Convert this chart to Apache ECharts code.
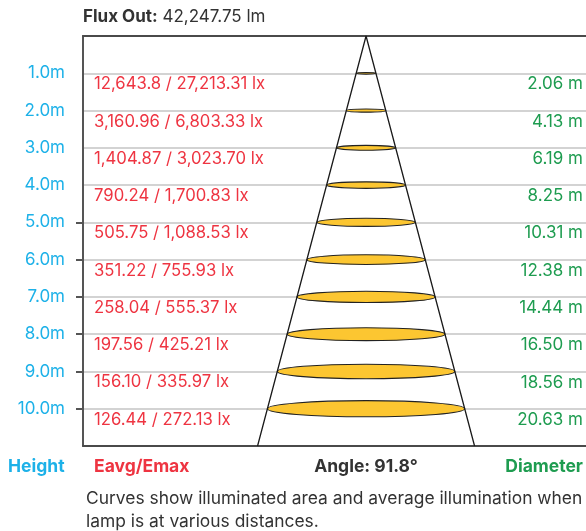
<!DOCTYPE html>
<html>
<head>
<meta charset="utf-8">
<script src="https://cdn.jsdelivr.net/npm/echarts@6/dist/echarts.min.js"></script>
<style>
  html, body { margin: 0; padding: 0; background: #fff; }
  #chart { width: 586px; height: 531px; }
</style>
</head>
<body>
<div id="chart"></div>
<script>
// mounting heights (m)
const heights = [1, 2, 3, 4, 5, 6, 7, 8, 9, 10];
// average / max illuminance (lx)
const eavg = ['12,643.8', '3,160.96', '1,404.87', '790.24', '505.75', '351.22', '258.04', '197.56', '156.10', '126.44'];
const emax = ['27,213.31', '6,803.33', '3,023.70', '1,700.83', '1,088.53', '755.93', '555.37', '425.21', '335.97', '272.13'];
// lit circle diameter (m)
const diameters = [2.06, 4.13, 6.19, 8.25, 10.31, 12.38, 14.44, 16.50, 18.56, 20.63];
// heights that carry a tick mark on the left axis
const tickHeights = [5, 6, 7, 8, 9, 10];
const fluxOut = '42,247.75';
const beamAngle = 91.8;

const X_MIN = -29.6, X_MAX = 23.0, Y_MAX = 11;
const FONT = 'Inter';
const FS = 17, FS_BOLD = 17.5;
const BLUE = '#1db1e8', RED = '#ee3441', GREEN = '#1e9c50', DARK = '#333';

const chart = echarts.init(document.getElementById('chart'));

// cone edge radius at the bottom of the box
const coneR = diameters[diameters.length - 1] / 2 / heights[heights.length - 1] * Y_MAX;

const option = {
    animation: false,
    grid: { left: 83, top: 36, right: 0, bottom: 85, containLabel: false },
    xAxis: [
        {
            type: 'value', min: X_MIN, max: X_MAX, position: 'bottom',
            axisLine: { show: true, onZero: false, lineStyle: { color: '#4a4a4a', width: 2 } },
            axisTick: { show: false }, axisLabel: { show: false }, splitLine: { show: false }
        },
        {
            type: 'value', min: X_MIN, max: X_MAX, position: 'top',
            axisLine: { show: true, onZero: false, lineStyle: { color: '#4a4a4a', width: 2 } },
            axisTick: { show: false }, axisLabel: { show: false }, splitLine: { show: false }
        }
    ],
    yAxis: [
        {
            type: 'value', min: 0, max: Y_MAX, interval: 1, inverse: true, position: 'left',
            axisLine: { show: true, onZero: false, lineStyle: { color: '#555', width: 2 } },
            axisTick: { show: false },
            axisLabel: {
                margin: 18, fontSize: FS, fontFamily: FONT, color: BLUE,
                formatter: v => heights.indexOf(v) >= 0 ? v.toFixed(1) + 'm' : ''
            },
            splitLine: { show: true, lineStyle: { color: '#c4c4c4', width: 1.5 } }
        },
        {
            // only carries the short ticks
            type: 'value', min: 0, max: Y_MAX, inverse: true, position: 'left',
            axisLine: { show: false, onZero: false },
            axisTick: { show: true, length: 7, customValues: tickHeights, lineStyle: { color: '#555', width: 2 } },
            axisLabel: { show: false },
            splitLine: { show: false }
        }
    ],
    series: [
        {
            // lit area ellipses
            type: 'custom',
            xAxisIndex: 0, yAxisIndex: 0,
            silent: true,
            data: heights.map((h, i) => [h, diameters[i]]),
            renderItem: function (params, api) {
                const h = api.value(0), d = api.value(1);
                const c = api.coord([0, h]);
                const e = api.coord([d / 2, h]);
                const rx = e[0] - c[0];
                return {
                    type: 'ellipse',
                    shape: { cx: c[0], cy: c[1], rx: rx, ry: rx * 0.082 },
                    style: { fill: '#fcc631', stroke: '#222', lineWidth: 1.1 }
                };
            },
            z: 3
        },
        {
            // beam cone
            type: 'line',
            xAxisIndex: 0, yAxisIndex: 0,
            data: [[-coneR, Y_MAX], [0, 0], [coneR, Y_MAX]],
            symbol: 'none',
            lineStyle: { color: '#1a1a1a', width: 1.3 },
            silent: true,
            z: 4
        },
        {
            // Eavg/Emax and diameter labels
            type: 'custom',
            xAxisIndex: 0, yAxisIndex: 0,
            silent: true,
            data: heights.map((h, i) => [h, i]),
            renderItem: function (params, api) {
                const h = api.value(0), i = api.value(1);
                const l = api.coord([X_MIN, h]);
                const r = api.coord([X_MAX, h]);
                return {
                    type: 'group',
                    children: [
                        {
                            type: 'text',
                            x: l[0] + 11, y: l[1] + 11,
                            style: {
                                text: eavg[i] + ' / ' + emax[i] + ' lx',
                                fill: RED, font: '16.7px ' + FONT,
                                align: 'left', verticalAlign: 'middle'
                            }
                        },
                        {
                            type: 'text',
                            x: r[0] - 3, y: r[1] + 11,
                            style: {
                                text: diameters[i].toFixed(2) + ' m',
                                fill: GREEN, font: FS + 'px ' + FONT,
                                align: 'right', verticalAlign: 'middle'
                            }
                        }
                    ]
                };
            },
            z: 5
        }
    ],
    graphic: [
        {
            type: 'text', x: 83, y: 17,
            style: {
                text: '{b|Flux Out:} ' + fluxOut + ' lm',
                font: FS + 'px ' + FONT, fill: DARK, verticalAlign: 'middle',
                rich: { b: { fontWeight: 'bold', fontSize: FS, fontFamily: FONT, fill: DARK } }
            }
        },
        { type: 'text', x: 8, y: 467, style: { text: 'Height', font: 'bold ' + FS_BOLD + 'px ' + FONT, fill: BLUE, verticalAlign: 'middle' } },
        { type: 'text', x: 94, y: 467, style: { text: 'Eavg/Emax', font: 'bold ' + FS_BOLD + 'px ' + FONT, fill: RED, verticalAlign: 'middle' } },
        { type: 'text', x: 366, y: 467, style: { text: 'Angle: ' + beamAngle.toFixed(1) + '°', font: 'bold ' + FS_BOLD + 'px ' + FONT, fill: DARK, align: 'center', verticalAlign: 'middle' } },
        { type: 'text', x: 583, y: 467, style: { text: 'Diameter', font: 'bold ' + FS_BOLD + 'px ' + FONT, fill: GREEN, align: 'right', verticalAlign: 'middle' } },
        { type: 'text', x: 86, y: 499, style: { text: 'Curves show illuminated area and average illumination when', font: '17.4px ' + FONT, fill: DARK, verticalAlign: 'middle' } },
        { type: 'text', x: 86, y: 522, style: { text: 'lamp is at various distances.', font: '17.4px ' + FONT, fill: DARK, verticalAlign: 'middle' } }
    ]
};

chart.setOption(option);
</script>
</body>
</html>
